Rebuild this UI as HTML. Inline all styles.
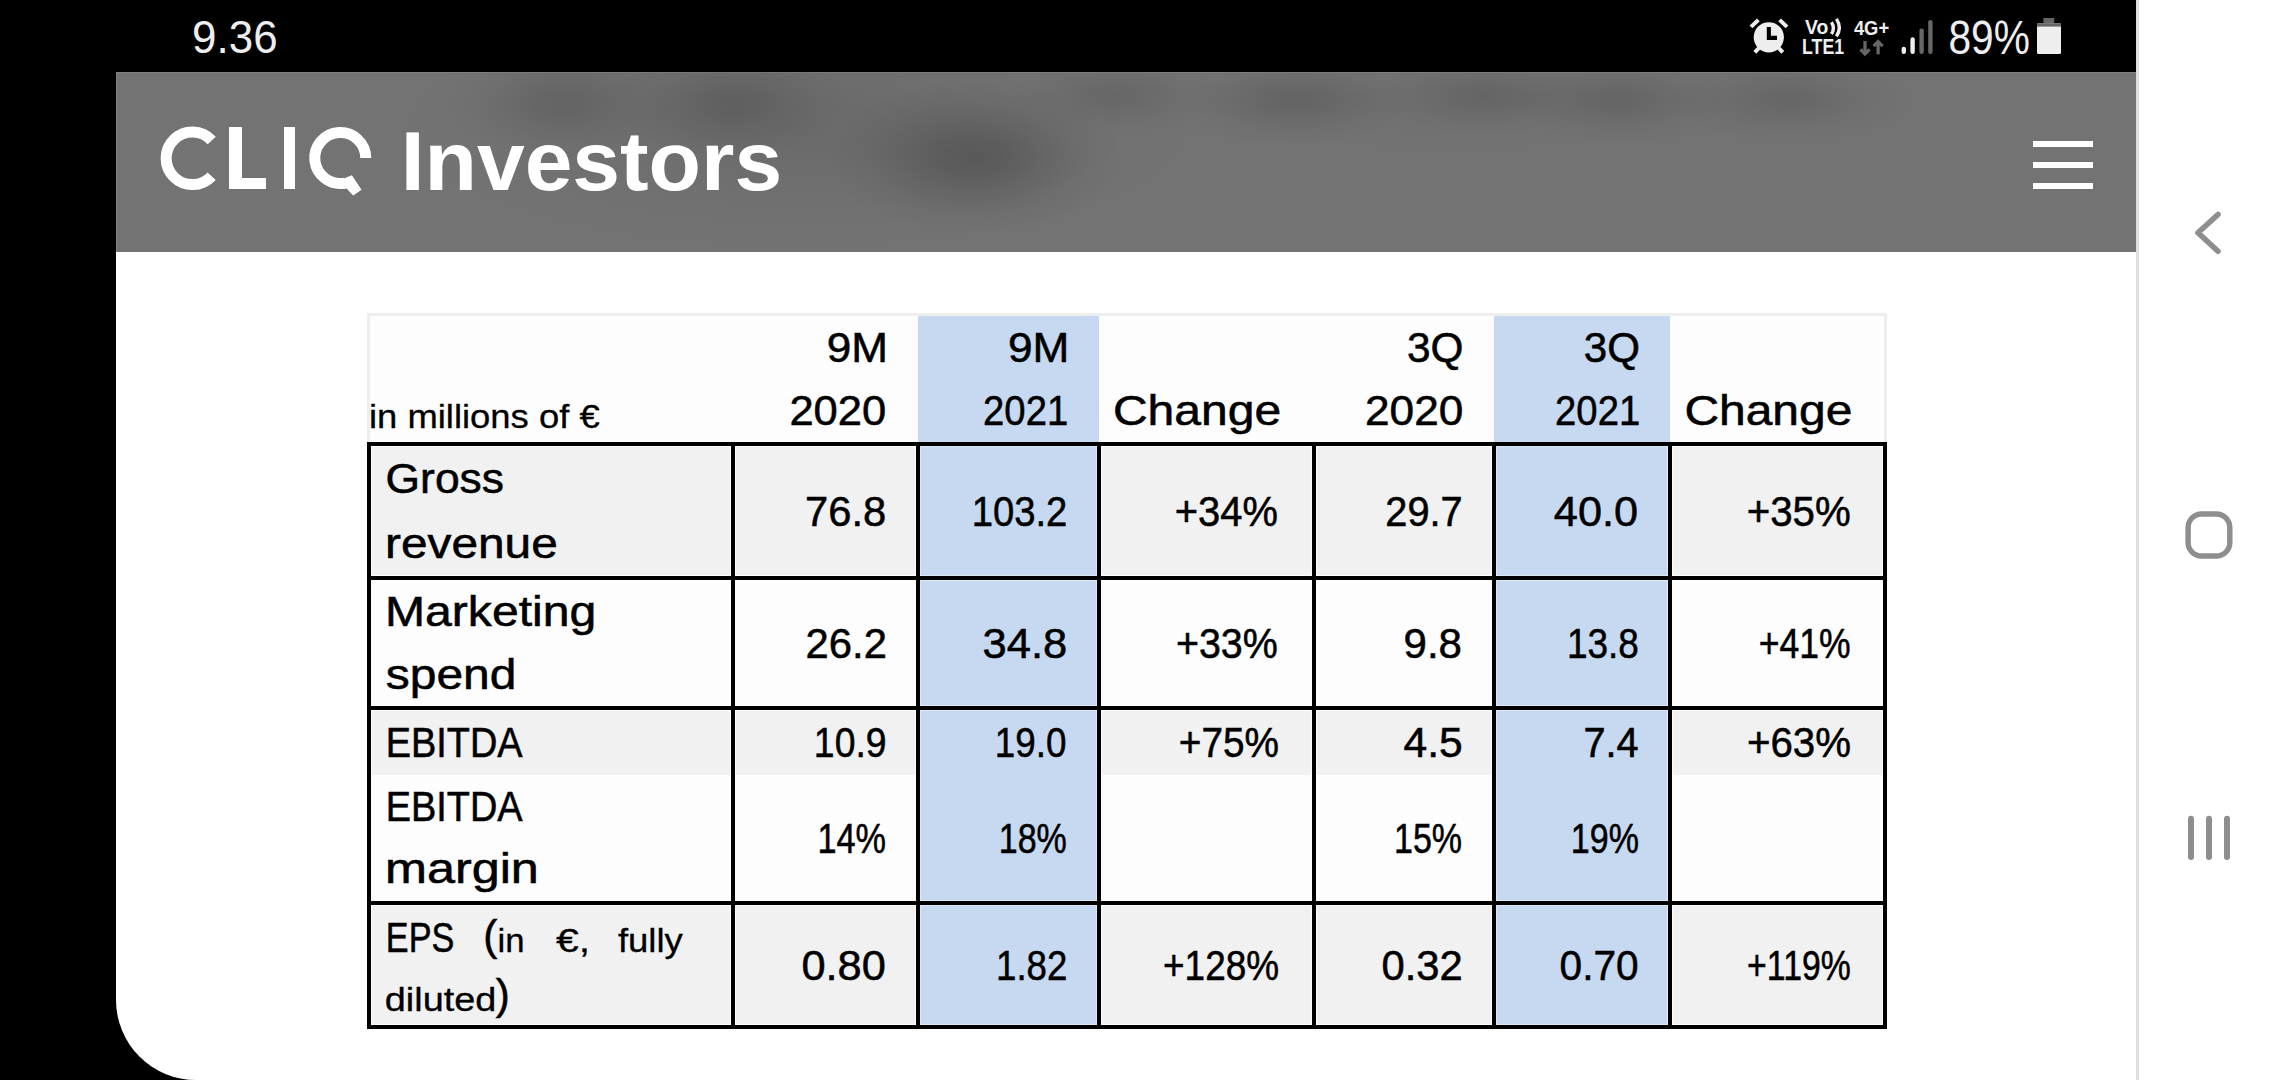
<!DOCTYPE html>
<html><head><meta charset="utf-8"><title>CLIQ Investors</title>
<style>
html,body{margin:0;padding:0;}
body{width:2280px;height:1080px;position:relative;overflow:hidden;background:#ffffff;font-family:"Liberation Sans",sans-serif;}
.abs{position:absolute;}
</style></head>
<body>
<div class="abs" style="left:0;top:0;width:2136px;height:1080px;background:#000000"></div>
<div class="abs" style="left:116px;top:72px;width:2020px;height:1008px;background:#ffffff;border-bottom-left-radius:80px"></div>
<div class="abs" style="left:116px;top:72px;width:2020px;height:180px;background:#737373;overflow:hidden;box-shadow:inset 1px 1px 0 #7f7f7f">
  <div class="abs" style="left:264px;top:-77px;width:840px;height:260px;background:radial-gradient(closest-side,rgba(0,0,0,0.080),rgba(0,0,0,0.068) 20%,rgba(0,0,0,0.040) 45%,rgba(0,0,0,0.014) 72%,rgba(0,0,0,0))"></div>
  <div class="abs" style="left:709px;top:8px;width:300px;height:156px;background:radial-gradient(closest-side,rgba(0,0,0,0.200),rgba(0,0,0,0.170) 20%,rgba(0,0,0,0.100) 45%,rgba(0,0,0,0.036) 72%,rgba(0,0,0,0))"></div>
  <div class="abs" style="left:495px;top:-28px;width:240px;height:116px;background:radial-gradient(closest-side,rgba(0,0,0,0.120),rgba(0,0,0,0.102) 20%,rgba(0,0,0,0.060) 45%,rgba(0,0,0,0.022) 72%,rgba(0,0,0,0))"></div>
  <div class="abs" style="left:325px;top:-28px;width:240px;height:116px;background:radial-gradient(closest-side,rgba(0,0,0,0.110),rgba(0,0,0,0.093) 20%,rgba(0,0,0,0.055) 45%,rgba(0,0,0,0.020) 72%,rgba(0,0,0,0))"></div>
  <div class="abs" style="left:890px;top:-19px;width:220px;height:84px;background:radial-gradient(closest-side,rgba(0,0,0,0.090),rgba(0,0,0,0.076) 20%,rgba(0,0,0,0.045) 45%,rgba(0,0,0,0.016) 72%,rgba(0,0,0,0))"></div>
  <div class="abs" style="left:1057px;top:-18px;width:240px;height:92px;background:radial-gradient(closest-side,rgba(0,0,0,0.110),rgba(0,0,0,0.093) 20%,rgba(0,0,0,0.055) 45%,rgba(0,0,0,0.020) 72%,rgba(0,0,0,0))"></div>
  <div class="abs" style="left:1259px;top:-19px;width:220px;height:84px;background:radial-gradient(closest-side,rgba(0,0,0,0.090),rgba(0,0,0,0.076) 20%,rgba(0,0,0,0.045) 45%,rgba(0,0,0,0.016) 72%,rgba(0,0,0,0))"></div>
  <div class="abs" style="left:1393px;top:-16px;width:220px;height:88px;background:radial-gradient(closest-side,rgba(0,0,0,0.100),rgba(0,0,0,0.085) 20%,rgba(0,0,0,0.050) 45%,rgba(0,0,0,0.018) 72%,rgba(0,0,0,0))"></div>
  <div class="abs" style="left:1544px;top:-16px;width:260px;height:88px;background:radial-gradient(closest-side,rgba(0,0,0,0.100),rgba(0,0,0,0.085) 20%,rgba(0,0,0,0.050) 45%,rgba(0,0,0,0.018) 72%,rgba(0,0,0,0))"></div>
  <div class="abs" style="left:874px;top:-27px;width:920px;height:110px;background:radial-gradient(closest-side,rgba(0,0,0,0.040),rgba(0,0,0,0.034) 20%,rgba(0,0,0,0.020) 45%,rgba(0,0,0,0.007) 72%,rgba(0,0,0,0))"></div>
</div>
<div class="abs" style="left:2136px;top:0;width:3px;height:1080px;background:#e0e0e0"></div>
<svg class="abs" style="left:0;top:0" width="2280" height="1080" viewBox="0 0 2280 1080" font-family="'Liberation Sans', sans-serif">
<rect x="367" y="313" width="1520" height="129" fill="#eeeeee"/>
<rect x="370" y="316" width="1514" height="126" fill="#fdfdfd"/>
<rect x="918" y="316" width="181" height="126" fill="#c6d9f1"/>
<rect x="1494" y="316" width="176" height="126" fill="#c6d9f1"/>
<rect x="367" y="442" width="1520" height="587" fill="#fdfdfd"/>
<rect x="372" y="447" width="358" height="128" fill="#f1f1f1"/>
<rect x="736" y="447" width="179" height="128" fill="#f1f1f1"/>
<rect x="920" y="446" width="177" height="130" fill="#dde7f6"/>
<rect x="921" y="447" width="175" height="128" fill="#c6d9f1"/>
<rect x="1102" y="447" width="209" height="128" fill="#f1f1f1"/>
<rect x="1317" y="447" width="174" height="128" fill="#f1f1f1"/>
<rect x="1496" y="446" width="172" height="130" fill="#dde7f6"/>
<rect x="1497" y="447" width="170" height="128" fill="#c6d9f1"/>
<rect x="1673" y="447" width="209" height="128" fill="#f1f1f1"/>
<rect x="920" y="580" width="177" height="126" fill="#dde7f6"/>
<rect x="921" y="581" width="175" height="124" fill="#c6d9f1"/>
<rect x="1496" y="580" width="172" height="126" fill="#dde7f6"/>
<rect x="1497" y="581" width="170" height="124" fill="#c6d9f1"/>
<rect x="372" y="711" width="358" height="64" fill="#f1f1f1"/>
<rect x="736" y="711" width="179" height="64" fill="#f1f1f1"/>
<rect x="920" y="710" width="177" height="65" fill="#dde7f6"/>
<rect x="921" y="711" width="175" height="64" fill="#c6d9f1"/>
<rect x="1102" y="711" width="209" height="64" fill="#f1f1f1"/>
<rect x="1317" y="711" width="174" height="64" fill="#f1f1f1"/>
<rect x="1496" y="710" width="172" height="65" fill="#dde7f6"/>
<rect x="1497" y="711" width="170" height="64" fill="#c6d9f1"/>
<rect x="1673" y="711" width="209" height="64" fill="#f1f1f1"/>
<rect x="920" y="775" width="177" height="126" fill="#dde7f6"/>
<rect x="921" y="775" width="175" height="125" fill="#c6d9f1"/>
<rect x="1496" y="775" width="172" height="126" fill="#dde7f6"/>
<rect x="1497" y="775" width="170" height="125" fill="#c6d9f1"/>
<rect x="372" y="906" width="358" height="118" fill="#f1f1f1"/>
<rect x="736" y="906" width="179" height="118" fill="#f1f1f1"/>
<rect x="920" y="905" width="177" height="120" fill="#dde7f6"/>
<rect x="921" y="906" width="175" height="118" fill="#c6d9f1"/>
<rect x="1102" y="906" width="209" height="118" fill="#f1f1f1"/>
<rect x="1317" y="906" width="174" height="118" fill="#f1f1f1"/>
<rect x="1496" y="905" width="172" height="120" fill="#dde7f6"/>
<rect x="1497" y="906" width="170" height="118" fill="#c6d9f1"/>
<rect x="1673" y="906" width="209" height="118" fill="#f1f1f1"/>
<rect x="367" y="442" width="1520" height="4" fill="#000"/>
<rect x="367" y="576" width="1520" height="4" fill="#000"/>
<rect x="367" y="706" width="1520" height="4" fill="#000"/>
<rect x="367" y="901" width="1520" height="4" fill="#000"/>
<rect x="367" y="1025" width="1520" height="4" fill="#000"/>
<rect x="367" y="442" width="4" height="587" fill="#000"/>
<rect x="731" y="442" width="4" height="587" fill="#000"/>
<rect x="916" y="442" width="4" height="587" fill="#000"/>
<rect x="1097" y="442" width="4" height="587" fill="#000"/>
<rect x="1312" y="442" width="4" height="587" fill="#000"/>
<rect x="1492" y="442" width="4" height="587" fill="#000"/>
<rect x="1668" y="442" width="4" height="587" fill="#000"/>
<rect x="1883" y="442" width="4" height="587" fill="#000"/>

<g fill="none" stroke="#ffffff" stroke-width="11">
  <path d="M 211.7 140.4 A 26.3 26.3 0 1 0 211.7 176.2"/>
  <path d="M 365.75 158 A 25.5 25.5 0 1 0 344.68 183.11"/>
</g>
<g fill="#ffffff">
  <rect x="229" y="127" width="13" height="62"/>
  <rect x="229" y="178" width="37" height="11"/>
  <rect x="284" y="127" width="11" height="62"/>
  <polygon points="342.5,179 351.9,175.2 361.5,189.8 353.3,195.6 346.5,188.5 343,189"/>
</g>


<g fill="#ffffff">
  <rect x="2033" y="141" width="60" height="6"/>
  <rect x="2033" y="162" width="60" height="6"/>
  <rect x="2033" y="183" width="60" height="6"/>
</g>


<g fill="#eeeeee">
  <circle cx="1768.8" cy="37.3" r="15.1"/>
  <line x1="1751" y1="26.9" x2="1758.4" y2="19.9" stroke="#eeeeee" stroke-width="4"/>
  <line x1="1787" y1="26.9" x2="1779.6" y2="19.9" stroke="#eeeeee" stroke-width="4"/>
  <line x1="1754.8" y1="52.4" x2="1758.8" y2="48.2" stroke="#eeeeee" stroke-width="4"/>
  <line x1="1782.8" y1="52.4" x2="1778.8" y2="48.2" stroke="#eeeeee" stroke-width="4"/>
</g>
<path d="M 1768.85 27 V 37.9 H 1777" fill="none" stroke="#000" stroke-width="4.1"/>
<g fill="none" stroke="#eeeeee" stroke-width="3.4">
  <path d="M 1831.4 22.2 Q 1835.4 28.1 1831.4 34"/>
  <path d="M 1836.4 18.9 Q 1842.2 27.6 1836.4 36.4"/>
</g>
<g fill="none" stroke="#666666" stroke-width="3.3">
  <path d="M 1865 41 V 53.5"/>
  <path d="M 1860.5 49.3 L 1865 53.8 L 1869.5 49.3"/>
  <path d="M 1878.1 42 V 54.3"/>
  <path d="M 1873.6 46.2 L 1878.1 41.7 L 1882.6 46.2"/>
</g>
<g stroke-linecap="round" stroke-width="4.4">
  <line x1="1903.8" y1="49" x2="1903.8" y2="51.8" stroke="#eeeeee"/>
  <line x1="1912.6" y1="39.4" x2="1912.6" y2="51.8" stroke="#eeeeee"/>
  <line x1="1921.6" y1="30.6" x2="1921.6" y2="51.8" stroke="#666666"/>
  <line x1="1930.4" y1="22.2" x2="1930.4" y2="51.8" stroke="#666666"/>
</g>
<rect x="2043.4" y="18" width="10.8" height="6" fill="#666666"/>
<rect x="2037" y="23.2" width="24" height="30.7" rx="1.5" fill="#eeeeee"/>
<rect x="2037" y="23.2" width="24" height="3.4" fill="#666666"/>


<g fill="none" stroke="#8e8e8e" stroke-linecap="round" stroke-linejoin="round">
  <path d="M 2218 214.5 L 2198 232.8 L 2218 251.2" stroke-width="5.6"/>
  <rect x="2188.1" y="513.95" width="41.7" height="42.1" rx="13.5" stroke-width="5.4"/>
  <line x1="2191" y1="818.8" x2="2191" y2="857" stroke-width="6"/>
  <line x1="2209" y1="818.8" x2="2209" y2="857" stroke-width="6"/>
  <line x1="2227" y1="818.8" x2="2227" y2="857" stroke-width="6"/>
</g>

<text transform="matrix(0.9348 0 0 1 192.07 53.30)" font-size="47" font-weight="400" fill="#eeeeee">9.36</text>
<text transform="matrix(0.8305 0 0 1 1948.44 53.60)" font-size="49" font-weight="400" fill="#eeeeee">89%</text>
<text transform="matrix(0.8750 0 0 1 1853.90 34.50)" font-size="21" font-weight="700" fill="#eeeeee">4G+</text>
<text transform="matrix(0.8058 0 0 1 1802.10 53.50)" font-size="22" font-weight="700" fill="#eeeeee">LTE1</text>
<text transform="matrix(0.9240 0 0 1 1805.10 33.60)" font-size="21" font-weight="700" fill="#eeeeee">Vo</text>
<text transform="matrix(1.0214 0 0 1 400.69 190.00)" font-size="84" font-weight="700" fill="#ffffff">Investors</text>
<text transform="matrix(1.0716 0 0 1 368.93 427.55)" font-size="34" font-weight="400" fill="#000" stroke="#000" stroke-width="0.3">in millions of €</text>
<text transform="matrix(1.0193 0 0 1 826.78 361.60)" font-size="43.3" font-weight="400" fill="#000" stroke="#000" stroke-width="0.55">9M</text>
<text transform="matrix(1.0063 0 0 1 789.39 424.55)" font-size="43.3" font-weight="400" fill="#000" stroke="#000" stroke-width="0.55">2020</text>
<text transform="matrix(1.0211 0 0 1 1007.98 361.60)" font-size="43.3" font-weight="400" fill="#000" stroke="#000" stroke-width="0.55">9M</text>
<text transform="matrix(0.8830 0 0 1 983.12 424.55)" font-size="43.3" font-weight="400" fill="#000" stroke="#000" stroke-width="0.55">2021</text>
<text transform="matrix(1.1093 0 0 1 1112.89 424.55)" font-size="43.3" font-weight="400" fill="#000" stroke="#000" stroke-width="0.55">Change</text>
<text transform="matrix(0.9786 0 0 1 1407.02 361.60)" font-size="43.3" font-weight="400" fill="#000" stroke="#000" stroke-width="0.55">3Q</text>
<text transform="matrix(1.0211 0 0 1 1364.98 424.55)" font-size="43.3" font-weight="400" fill="#000" stroke="#000" stroke-width="0.55">2020</text>
<text transform="matrix(0.9732 0 0 1 1583.73 361.60)" font-size="43.3" font-weight="400" fill="#000" stroke="#000" stroke-width="0.55">3Q</text>
<text transform="matrix(0.8830 0 0 1 1555.12 424.55)" font-size="43.3" font-weight="400" fill="#000" stroke="#000" stroke-width="0.55">2021</text>
<text transform="matrix(1.1073 0 0 1 1684.39 424.55)" font-size="43.3" font-weight="400" fill="#000" stroke="#000" stroke-width="0.55">Change</text>
<text transform="matrix(1.0254 0 0 1 385.57 492.55)" font-size="43.3" font-weight="400" fill="#000" stroke="#000" stroke-width="0.55">Gross</text>
<text transform="matrix(1.1045 0 0 1 384.99 557.55)" font-size="43.3" font-weight="400" fill="#000" stroke="#000" stroke-width="0.55">revenue</text>
<text transform="matrix(1.1118 0 0 1 384.98 625.50)" font-size="43.3" font-weight="400" fill="#000" stroke="#000" stroke-width="0.55">Marketing</text>
<text transform="matrix(1.1070 0 0 1 385.79 688.65)" font-size="43.3" font-weight="400" fill="#000" stroke="#000" stroke-width="0.55">spend</text>
<text transform="matrix(0.8755 0 0 1 385.65 756.60)" font-size="43.3" font-weight="400" fill="#000" stroke="#000" stroke-width="0.55">EBITDA</text>
<text transform="matrix(0.8755 0 0 1 385.65 820.50)" font-size="43.3" font-weight="400" fill="#000" stroke="#000" stroke-width="0.55">EBITDA</text>
<text transform="matrix(1.1628 0 0 1 384.97 883.45)" font-size="43.3" font-weight="400" fill="#000" stroke="#000" stroke-width="0.55">margin</text>
<text transform="matrix(0.7904 0 0 1 385.82 951.60)" font-size="43.3" font-weight="400" fill="#000" stroke="#000" stroke-width="0.55">EPS</text>
<text transform="matrix(0.9769 0 0 1 483.35 950.00)" font-size="43.3" font-weight="400" fill="#000" stroke="#000" stroke-width="0.55">(</text>
<text transform="matrix(1.0542 0 0 1 497.55 951.60)" font-size="33" font-weight="400" fill="#000" stroke="#000" stroke-width="0.3">in</text>
<text transform="matrix(1.2400 0 0 1 556.00 951.60)" font-size="33" font-weight="400" fill="#000" stroke="#000" stroke-width="0.3">€,</text>
<text transform="matrix(1.1068 0 0 1 617.90 951.60)" font-size="33" font-weight="400" fill="#000" stroke="#000" stroke-width="0.3">fully</text>
<text transform="matrix(1.1484 0 0 1 384.75 1010.50)" font-size="33" font-weight="400" fill="#000" stroke="#000" stroke-width="0.3">diluted</text>
<text transform="matrix(0.9692 0 0 1 495.80 1009.00)" font-size="43.3" font-weight="400" fill="#000" stroke="#000" stroke-width="0.55">)</text>
<text transform="matrix(0.9634 0 0 1 805.04 525.65)" font-size="43.3" font-weight="400" fill="#000" stroke="#000" stroke-width="0.55">76.8</text>
<text transform="matrix(0.8838 0 0 1 971.63 525.65)" font-size="43.3" font-weight="400" fill="#000" stroke="#000" stroke-width="0.55">103.2</text>
<text transform="matrix(0.9209 0 0 1 1174.78 525.65)" font-size="43.3" font-weight="400" fill="#000" stroke="#000" stroke-width="0.55">+34%</text>
<text transform="matrix(0.9183 0 0 1 1385.28 525.65)" font-size="43.3" font-weight="400" fill="#000" stroke="#000" stroke-width="0.55">29.7</text>
<text transform="matrix(1.0000 0 0 1 1553.80 525.65)" font-size="43.3" font-weight="400" fill="#000" stroke="#000" stroke-width="0.55">40.0</text>
<text transform="matrix(0.9291 0 0 1 1746.77 525.65)" font-size="43.3" font-weight="400" fill="#000" stroke="#000" stroke-width="0.55">+35%</text>
<text transform="matrix(0.9659 0 0 1 805.53 657.55)" font-size="43.3" font-weight="400" fill="#000" stroke="#000" stroke-width="0.55">26.2</text>
<text transform="matrix(1.0049 0 0 1 982.60 657.55)" font-size="43.3" font-weight="400" fill="#000" stroke="#000" stroke-width="0.55">34.8</text>
<text transform="matrix(0.9109 0 0 1 1175.89 657.55)" font-size="43.3" font-weight="400" fill="#000" stroke="#000" stroke-width="0.55">+33%</text>
<text transform="matrix(0.9707 0 0 1 1403.53 657.55)" font-size="43.3" font-weight="400" fill="#000" stroke="#000" stroke-width="0.55">9.8</text>
<text transform="matrix(0.8531 0 0 1 1566.99 657.55)" font-size="43.3" font-weight="400" fill="#000" stroke="#000" stroke-width="0.55">13.8</text>
<text transform="matrix(0.8218 0 0 1 1758.68 657.55)" font-size="43.3" font-weight="400" fill="#000" stroke="#000" stroke-width="0.55">+41%</text>
<text transform="matrix(0.8630 0 0 1 813.87 756.60)" font-size="43.3" font-weight="400" fill="#000" stroke="#000" stroke-width="0.55">10.9</text>
<text transform="matrix(0.8524 0 0 1 994.70 756.60)" font-size="43.3" font-weight="400" fill="#000" stroke="#000" stroke-width="0.55">19.0</text>
<text transform="matrix(0.8955 0 0 1 1178.80 756.60)" font-size="43.3" font-weight="400" fill="#000" stroke="#000" stroke-width="0.55">+75%</text>
<text transform="matrix(0.9847 0 0 1 1403.50 756.60)" font-size="43.3" font-weight="400" fill="#000" stroke="#000" stroke-width="0.55">4.5</text>
<text transform="matrix(0.9169 0 0 1 1583.38 756.60)" font-size="43.3" font-weight="400" fill="#000" stroke="#000" stroke-width="0.55">7.4</text>
<text transform="matrix(0.9300 0 0 1 1746.97 756.60)" font-size="43.3" font-weight="400" fill="#000" stroke="#000" stroke-width="0.55">+63%</text>
<text transform="matrix(0.7917 0 0 1 817.42 852.55)" font-size="43.3" font-weight="400" fill="#000" stroke="#000" stroke-width="0.55">14%</text>
<text transform="matrix(0.7857 0 0 1 998.73 852.55)" font-size="43.3" font-weight="400" fill="#000" stroke="#000" stroke-width="0.55">18%</text>
<text transform="matrix(0.7857 0 0 1 1394.03 852.55)" font-size="43.3" font-weight="400" fill="#000" stroke="#000" stroke-width="0.55">15%</text>
<text transform="matrix(0.7857 0 0 1 1570.83 852.55)" font-size="43.3" font-weight="400" fill="#000" stroke="#000" stroke-width="0.55">19%</text>
<text transform="matrix(1.0012 0 0 1 801.40 979.55)" font-size="43.3" font-weight="400" fill="#000" stroke="#000" stroke-width="0.55">0.80</text>
<text transform="matrix(0.8469 0 0 1 996.01 979.55)" font-size="43.3" font-weight="400" fill="#000" stroke="#000" stroke-width="0.55">1.82</text>
<text transform="matrix(0.8530 0 0 1 1163.05 979.55)" font-size="43.3" font-weight="400" fill="#000" stroke="#000" stroke-width="0.55">+128%</text>
<text transform="matrix(0.9659 0 0 1 1381.43 979.55)" font-size="43.3" font-weight="400" fill="#000" stroke="#000" stroke-width="0.55">0.32</text>
<text transform="matrix(0.9386 0 0 1 1559.56 979.55)" font-size="43.3" font-weight="400" fill="#000" stroke="#000" stroke-width="0.55">0.70</text>
<text transform="matrix(0.7809 0 0 1 1747.12 979.55)" font-size="43.3" font-weight="400" fill="#000" stroke="#000" stroke-width="0.55">+119%</text>
</svg>
</body></html>
